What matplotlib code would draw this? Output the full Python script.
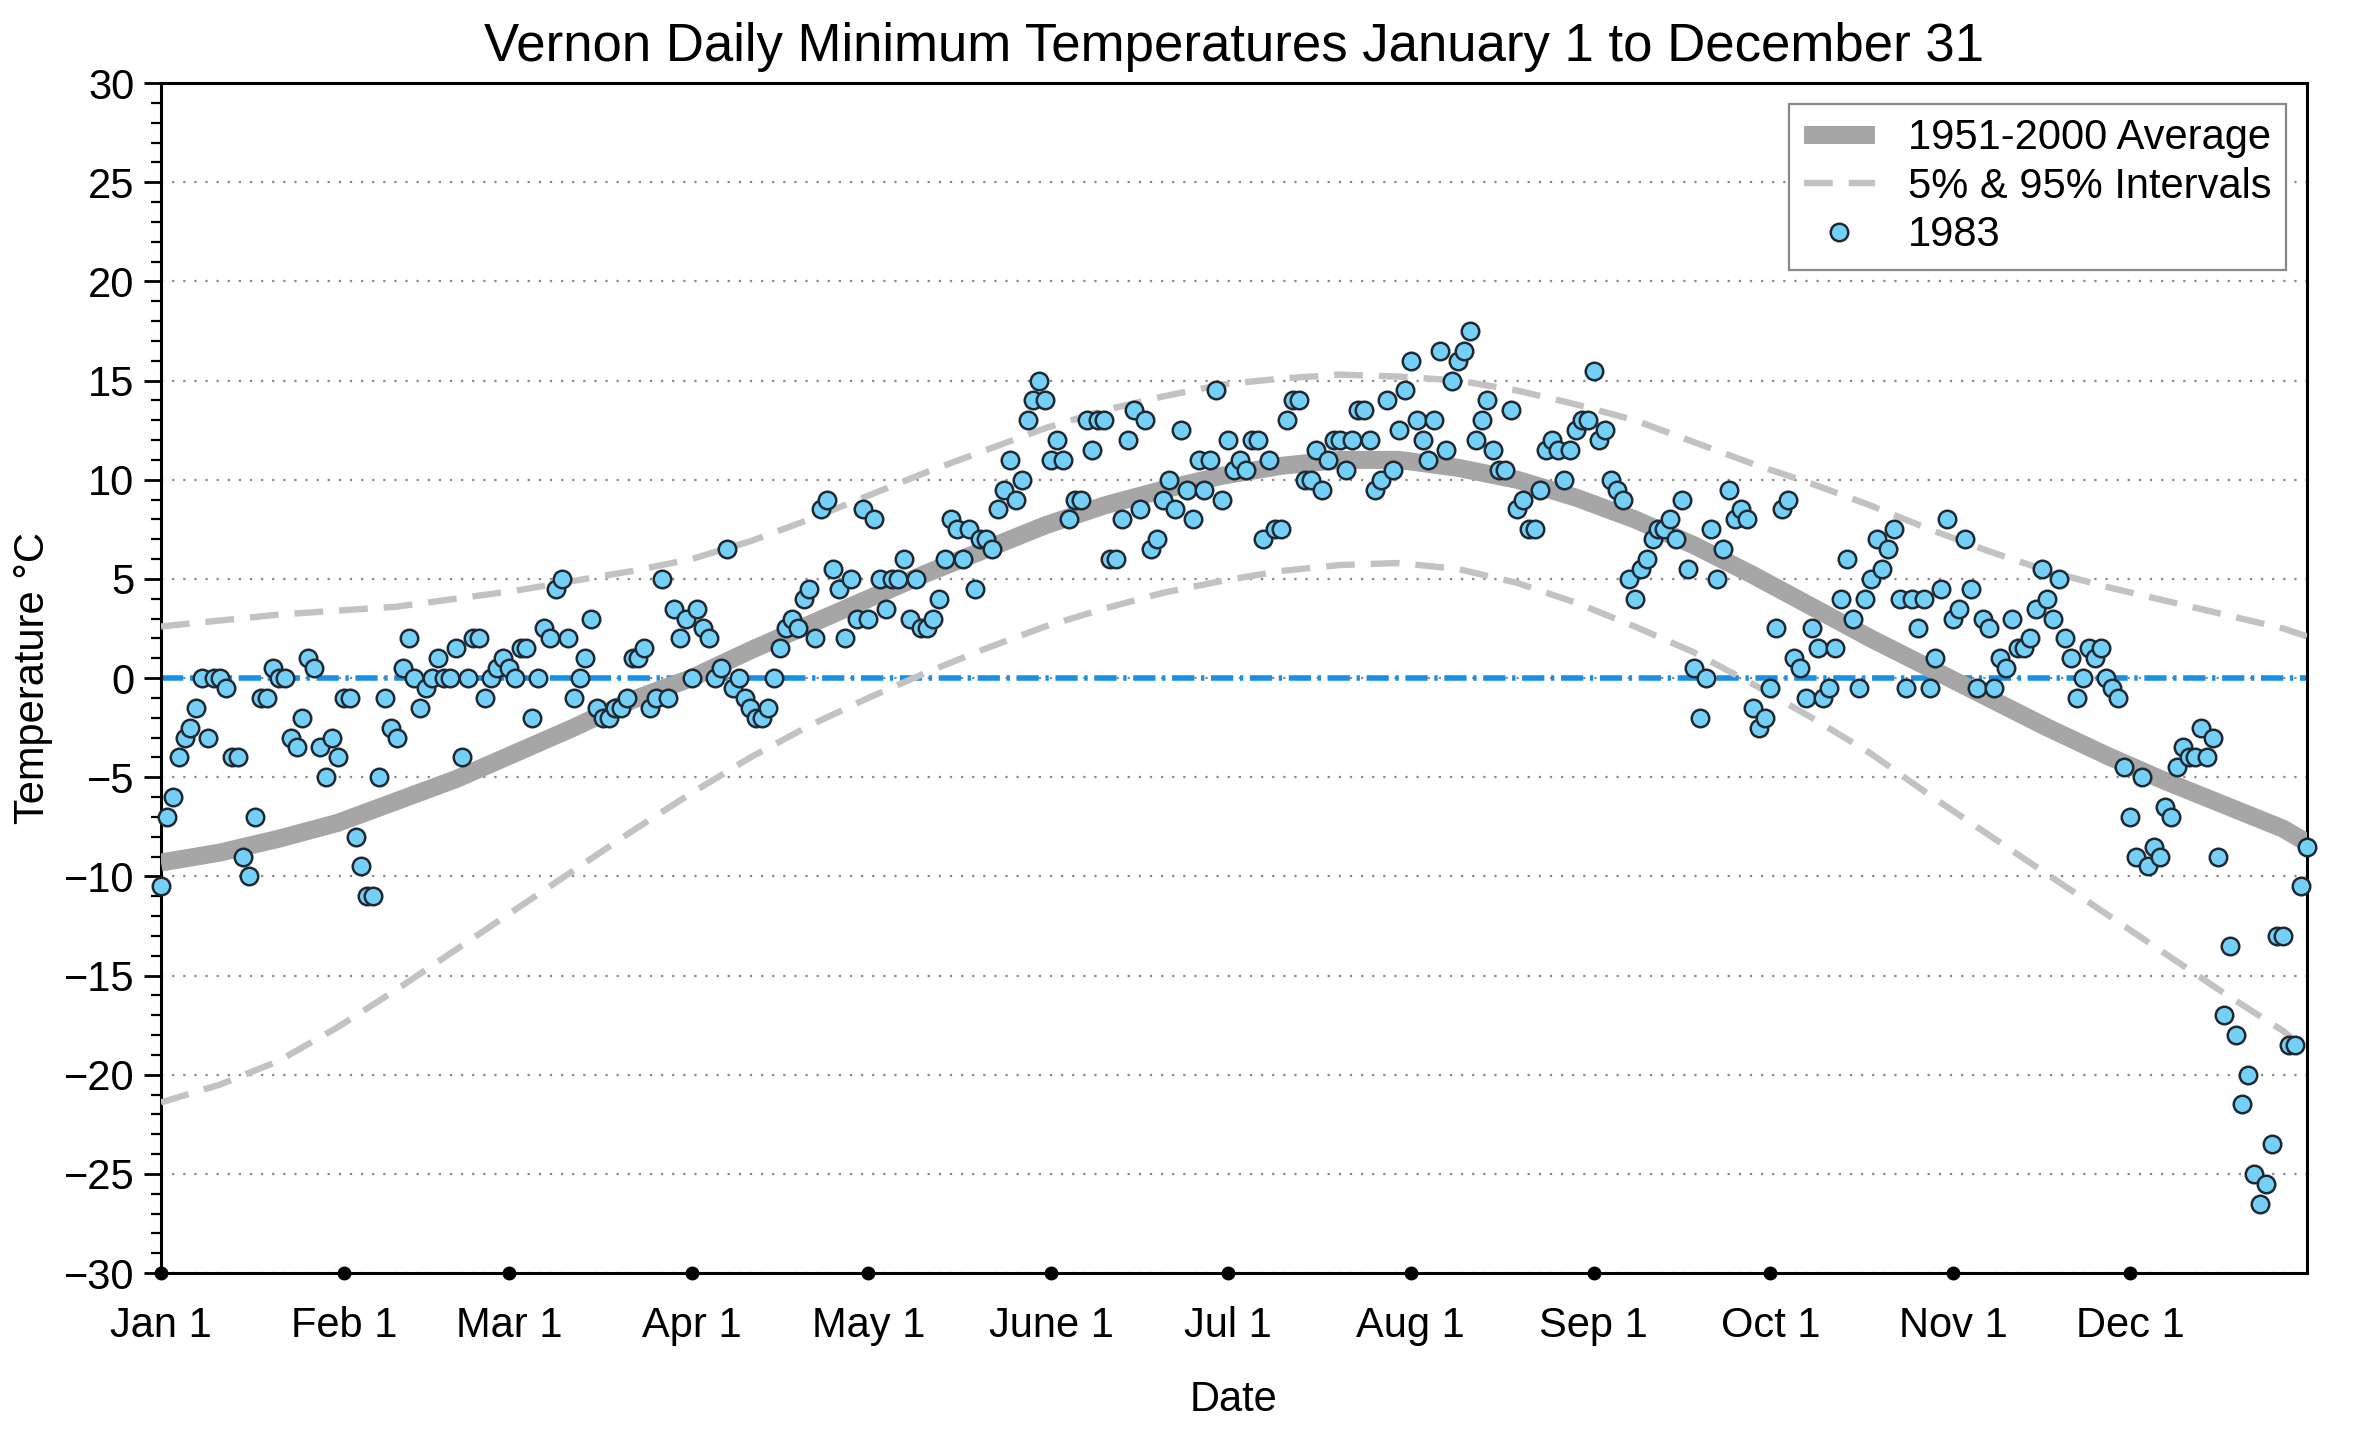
import numpy as np
import matplotlib.pyplot as plt

plt.rcParams['font.family'] = ['Liberation Sans', 'DejaVu Sans']

# daily minimum temperatures for 1983 (Jan 1 .. Dec 31)
temps_1983 = [
    -10.5, -7, -6, -4, -3, -2.5, -1.5, 0, -3, 0,
    0, -0.5, -4, -4, -9, -10, -7, -1, -1, 0.5,
    0, 0, -3, -3.5, -2, 1, 0.5, -3.5, -5, -3,
    -4, -1, -1, -8, -9.5, -11, -11, -5, -1, -2.5,
    -3, 0.5, 2, 0, -1.5, -0.5, 0, 1, 0, 0,
    1.5, -4, 0, 2, 2, -1, 0, 0.5, 1, 0.5,
    0, 1.5, 1.5, -2, 0, 2.5, 2, 4.5, 5, 2,
    -1, 0, 1, 3, -1.5, -2, -2, -1.5, -1.5, -1,
    1, 1, 1.5, -1.5, -1, 5, -1, 3.5, 2, 3,
    0, 3.5, 2.5, 2, 0, 0.5, 6.5, -0.5, 0, -1,
    -1.5, -2, -2, -1.5, 0, 1.5, 2.5, 3, 2.5, 4,
    4.5, 2, 8.5, 9, 5.5, 4.5, 2, 5, 3, 8.5,
    3, 8, 5, 3.5, 5, 5, 6, 3, 5, 2.5,
    2.5, 3, 4, 6, 8, 7.5, 6, 7.5, 4.5, 7,
    7, 6.5, 8.5, 9.5, 11, 9, 10, 13, 14, 15,
    14, 11, 12, 11, 8, 9, 9, 13, 11.5, 13,
    13, 6, 6, 8, 12, 13.5, 8.5, 13, 6.5, 7,
    9, 10, 8.5, 12.5, 9.5, 8, 11, 9.5, 11, 14.5,
    9, 12, 10.5, 11, 10.5, 12, 12, 7, 11, 7.5,
    7.5, 13, 14, 14, 10, 10, 11.5, 9.5, 11, 12,
    12, 10.5, 12, 13.5, 13.5, 12, 9.5, 10, 14, 10.5,
    12.5, 14.5, 16, 13, 12, 11, 13, 16.5, 11.5, 15,
    16, 16.5, 17.5, 12, 13, 14, 11.5, 10.5, 10.5, 13.5,
    8.5, 9, 7.5, 7.5, 9.5, 11.5, 12, 11.5, 10, 11.5,
    12.5, 13, 13, 15.5, 12, 12.5, 10, 9.5, 9, 5,
    4, 5.5, 6, 7, 7.5, 7.5, 8, 7, 9, 5.5,
    0.5, -2, 0, 7.5, 5, 6.5, 9.5, 8, 8.5, 8,
    -1.5, -2.5, -2, -0.5, 2.5, 8.5, 9, 1, 0.5, -1,
    2.5, 1.5, -1, -0.5, 1.5, 4, 6, 3, -0.5, 4,
    5, 7, 5.5, 6.5, 7.5, 4, -0.5, 4, 2.5, 4,
    -0.5, 1, 4.5, 8, 3, 3.5, 7, 4.5, -0.5, 3,
    2.5, -0.5, 1, 0.5, 3, 1.5, 1.5, 2, 3.5, 5.5,
    4, 3, 5, 2, 1, -1, 0, 1.5, 1, 1.5,
    0, -0.5, -1, -4.5, -7, -9, -5, -9.5, -8.5, -9,
    -6.5, -7, -4.5, -3.5, -4, -4, -2.5, -4, -3, -9,
    -17, -13.5, -18, -21.5, -20, -25, -26.5, -25.5, -23.5, -13,
    -13, -18.5, -18.5, -10.5, -8.5,
]
days = np.arange(1, len(temps_1983) + 1)

# 1951-2000 climatology, read every 10 days
clim_days = [1, 11, 21, 31, 41, 51, 61, 71, 81, 91, 101, 111, 121, 131, 141,
             151, 161, 171, 181, 191, 201, 211, 221, 231, 241, 251, 261, 271,
             281, 291, 301, 311, 321, 331, 341, 351, 361, 365]
avg = [-9.3, -8.8, -8.1, -7.3, -6.2, -5.1, -3.8, -2.5, -1.1, 0.0, 1.4, 2.7,
       4.0, 5.3, 6.5, 7.7, 8.7, 9.5, 10.2, 10.7, 11.0, 11.0, 10.6, 10.0, 9.1,
       8.0, 6.7, 5.2, 3.6, 2.0, 0.5, -1.0, -2.5, -3.9, -5.2, -6.4, -7.6, -8.3]
p95 = [2.6, 2.9, 3.2, 3.4, 3.6, 4.0, 4.4, 4.9, 5.4, 6.0, 6.9, 8.0, 9.2, 10.4,
       11.5, 12.6, 13.5, 14.2, 14.8, 15.1, 15.3, 15.2, 15.0, 14.5, 13.8, 13.0,
       11.9, 10.8, 9.8, 8.7, 7.5, 6.4, 5.4, 4.6, 3.9, 3.2, 2.5, 2.1]
p5 = [-21.4, -20.5, -19.3, -17.6, -15.7, -13.7, -11.7, -9.7, -7.7, -5.8, -4.0,
      -2.4, -1.0, 0.3, 1.5, 2.6, 3.5, 4.3, 4.9, 5.4, 5.7, 5.8, 5.5, 4.8, 3.8,
      2.6, 1.3, -0.3, -2.0, -3.8, -5.9, -7.9, -9.9, -11.9, -13.9, -15.9,
      -17.8, -18.8]

month_days = [1, 32, 60, 91, 121, 152, 182, 213, 244, 274, 305, 335]
month_labels = ['Jan 1', 'Feb 1', 'Mar 1', 'Apr 1', 'May 1', 'June 1',
                'Jul 1', 'Aug 1', 'Sep 1', 'Oct 1', 'Nov 1', 'Dec 1']

fig = plt.figure(figsize=(11.8, 7.16), dpi=200)
ax = fig.add_axes([0.0682, 0.111, 0.9093, 0.831])

ax.axhline(0, color='#1a8fe6', lw=2, linestyle=(0, (4, 1.2, 0.6, 1.2)), zorder=2)
ax.plot(clim_days, avg, color='#a6a6a6', lw=6.5, solid_capstyle='butt',
        solid_joinstyle='round', label='1951-2000 Average', zorder=3)
ax.plot(clim_days, p95, color='#c2c2c2', lw=2.3, linestyle=(0, (4.5, 2.5)),
        label='5% & 95% Intervals', zorder=3)
ax.plot(clim_days, p5, color='#c2c2c2', lw=2.3, linestyle=(0, (4.5, 2.5)), zorder=3)
ax.plot(days, temps_1983, 'o', ms=6.3, mfc='#74d0f7', mec='#1e2933', mew=0.9,
        label='1983', zorder=5, clip_on=False)

# month ticks drawn as dots on the bottom axis
ax.plot(month_days, [-30] * len(month_days), 'o', color='black', ms=4,
        clip_on=False, zorder=6)

ax.set_xlim(1, 365)
ax.set_ylim(-30, 30)
ax.set_xticks(month_days)
ax.set_xticklabels(month_labels)
ax.set_yticks(np.arange(-30, 31, 5))
ax.set_yticks(np.arange(-30, 31, 1), minor=True)
ax.tick_params(axis='x', length=0, pad=12, labelsize=15)
ax.tick_params(axis='y', which='major', direction='out', length=6, width=1, labelsize=15)
ax.tick_params(axis='y', which='minor', direction='out', length=3.5, width=0.8)
ax.yaxis.grid(True, linestyle=(0, (1, 4)), color='#888888', lw=0.8)
for s in ax.spines.values():
    s.set_linewidth(1.1)

ax.set_title('Vernon Daily Minimum Temperatures January 1 to December 31',
             fontsize=19, pad=8)
ax.set_xlabel('Date', fontsize=15, labelpad=12)
ax.set_ylabel('Temperature °C', fontsize=15, labelpad=4)

leg = ax.legend(loc='upper right', fontsize=15, fancybox=False, framealpha=1,
                edgecolor='#888888', handlelength=1.7, borderpad=0.35,
                labelspacing=0.2, handletextpad=0.8, borderaxespad=0.5)
leg.get_frame().set_linewidth(0.8)

fig.savefig('out.png', dpi=200)
